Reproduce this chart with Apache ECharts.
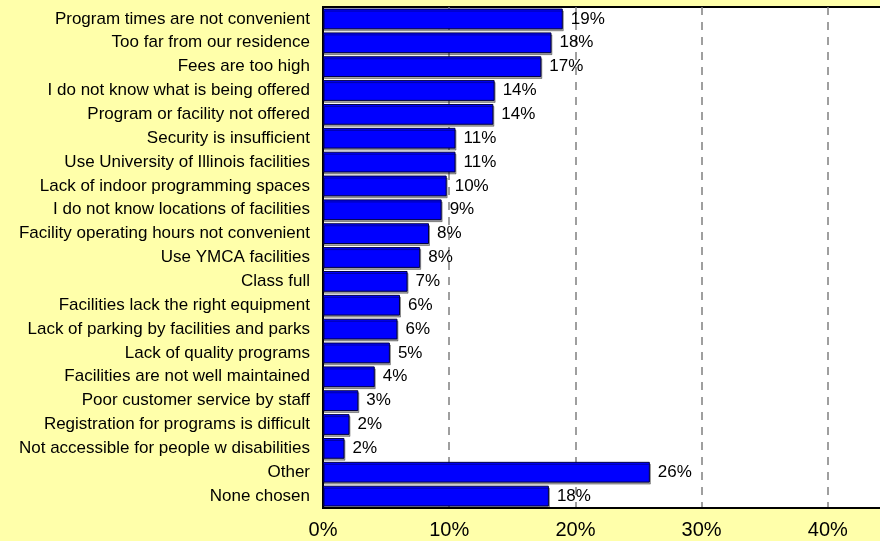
<!DOCTYPE html>
<html>
<head>
<meta charset="utf-8">
<script src="https://cdn.jsdelivr.net/npm/echarts@6/dist/echarts.min.js"></script>
<style>
  html, body { margin: 0; padding: 0; background: #FFFFAA; overflow: hidden; }
  /* the original is cut at the right edge, so the chart is wider than the window */
  #chart { width: 960px; height: 541px; }
</style>
</head>
<body>
<div id="chart"></div>
<script>
// reasons for not using facilities, top to bottom
var categories = [
    'Program times are not convenient',
    'Too far from our residence',
    'Fees are too high',
    'I do not know what is being offered',
    'Program or facility not offered',
    'Security is insufficient',
    'Use University of Illinois facilities',
    'Lack of indoor programming spaces',
    'I do not know locations of facilities',
    'Facility operating hours not convenient',
    'Use YMCA facilities',
    'Class full',
    'Facilities lack the right equipment',
    'Lack of parking by facilities and parks',
    'Lack of quality programs',
    'Facilities are not well maintained',
    'Poor customer service by staff',
    'Registration for programs is difficult',
    'Not accessible for people w disabilities',
    'Other',
    'None chosen'
];

// percent of respondents
var percents = [19.0, 18.1, 17.3, 13.6, 13.5, 10.5, 10.5, 9.8, 9.4, 8.4, 7.7,
    6.7, 6.1, 5.9, 5.3, 4.1, 2.8, 2.1, 1.7, 25.9, 17.9];

var xTicks = [0, 10, 20, 30, 40, 50];

var chart = echarts.init(document.getElementById('chart'));

chart.setOption({
    backgroundColor: '#FFFFAA',
    animation: false,
    textStyle: { fontFamily: 'Liberation Sans, Arial, sans-serif', color: '#000' },
    grid: {
        left: 323,
        top: 7,
        bottom: 33,
        right: 6,
        outerBoundsMode: 'none',
        show: true,
        backgroundColor: '#fff',
        borderColor: '#000',
        borderWidth: 2
    },
    xAxis: {
        type: 'value',
        min: xTicks[0],
        max: xTicks[xTicks.length - 1],
        interval: 10,
        axisLine: { show: true, lineStyle: { color: '#000', width: 2 } },
        axisTick: { show: false },
        axisLabel: {
            fontSize: 20,
            color: '#000',
            margin: 12,
            formatter: function (v) { return v + '%'; }
        },
        splitLine: {
            show: true,
            lineStyle: { color: '#808080', type: [8, 7], width: 1.5 }
        }
    },
    yAxis: {
        type: 'category',
        data: categories,
        inverse: true,
        axisLine: { show: true, lineStyle: { color: '#000', width: 2 } },
        axisTick: { show: false },
        axisLabel: { fontSize: 17, color: '#000', margin: 13 }
    },
    series: [{
        type: 'bar',
        data: percents,
        barCategoryGap: '13%',
        itemStyle: {
            color: '#0000FF',
            borderColor: '#000040',
            borderWidth: 1,
            shadowColor: 'rgba(0,0,0,0.35)',
            shadowOffsetX: 1,
            shadowOffsetY: 2
        },
        label: {
            show: true,
            position: 'right',
            distance: 8,
            fontSize: 17,
            color: '#000',
            formatter: function (p) { return Math.round(p.value) + '%'; }
        }
    }]
});
</script>
</body>
</html>
